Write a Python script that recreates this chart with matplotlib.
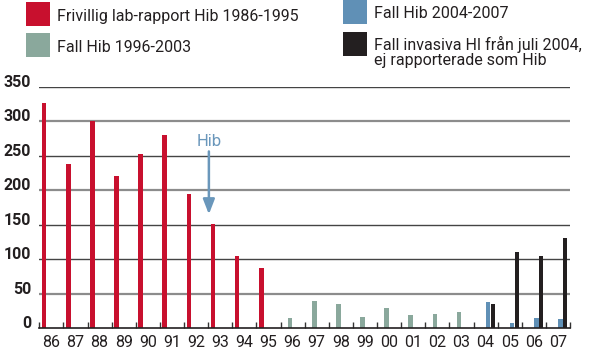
import matplotlib
matplotlib.use("Agg")
import matplotlib.pyplot as plt
from matplotlib.patches import Rectangle
import numpy as np

years = ["86", "87", "88", "89", "90", "91", "92", "93", "94", "95", "96",
         "97", "98", "99", "00", "01", "02", "03", "04", "05", "06", "07"]
red_years = years[0:10]
red_vals = [326, 238, 300, 221, 252, 280, 194, 151, 104, 87]
green_years = years[10:18]
green_vals = [15, 40, 35, 16, 30, 19, 21, 23]
blue_years = years[18:22]
blue_vals = [38, 7, 15, 13]
black_years = years[18:22]
black_vals = [35, 110, 105, 131]
yticks = [0, 50, 100, 150, 200, 250, 300, 350]

legend_labels = ["Frivillig lab-rapport Hib 1986-1995", "Fall Hib 1996-2003",
                 "Fall Hib 2004-2007", "Fall invasiva HI från juli 2004,\nej rapporterade som Hib"]

RED = "#c8102e"
GREEN = "#8aa89c"
BLUE = "#6090b6"
BLACK = "#231f20"
ARROW = "#6a97bb"

FONT = "Roboto"
plt.rcParams["font.family"] = [FONT, "DejaVu Sans"]

W, H = 600, 354
fig = plt.figure(figsize=(6, 3.54), dpi=100)

def fx(px):
    return px / W

def fy(py):
    return 1 - py / H

x0, x1 = 39.3, 570.0
ytop, ybot = 86.5, 328.3
ax = fig.add_axes([fx(x0), fy(ybot), fx(x1) - fx(x0), fy(ytop) - fy(ybot)])

idx = {y: i for i, y in enumerate(years)}
bw = 0.19
ax.bar([idx[y] + 0.2 for y in red_years], red_vals, width=bw, color=RED, zorder=3)
ax.bar([idx[y] + 0.4 for y in green_years], green_vals, width=bw, color=GREEN, zorder=3)
ax.bar([idx[y] + 0.6 for y in blue_years], blue_vals, width=bw, color=BLUE, zorder=3)
ax.bar([idx[y] + 0.8 for y in black_years], black_vals, width=bw, color=BLACK, zorder=3)

ax.set_xlim(0, len(years))
ax.set_ylim(0, 350)

# gridlines
for v in yticks[1:]:
    if v in (350, 250, 150, 100):
        ax.axhline(v, color="#444444", lw=1.0, zorder=1)
    else:
        ax.axhline(v, color="#8c8c8c", lw=1.6, zorder=1)

for s in ["top", "right", "left"]:
    ax.spines[s].set_visible(False)
ax.spines["bottom"].set_color(BLACK)
ax.spines["bottom"].set_linewidth(1.2)
ax.spines["bottom"].set_zorder(4)

ax.set_xticks(np.arange(0, len(years) + 1))
ax.set_xticklabels([])
ax.set_xticks(np.arange(len(years)) + 0.5, minor=True)
ax.set_xticklabels(years, minor=True, fontsize=11.5, color=BLACK)
ax.tick_params(axis="x", which="major", direction="in", length=4, width=1, color="#333333")
ax.tick_params(axis="x", which="minor", length=0, pad=5)

ax.set_yticks(yticks)
ax.set_yticklabels([str(v) for v in yticks], fontsize=11.5, fontweight="bold", color=BLACK)
ax.tick_params(axis="y", length=0, pad=6)
for lab in ax.get_yticklabels():
    lab.set_va("baseline")

# Hib annotation
hib_x = idx["93"] + 0.03
ax.text(hib_x, 271, "Hib", color=ARROW, fontsize=12, ha="center", va="center")
ax.annotate("", xy=(hib_x, 165), xytext=(hib_x, 256),
            arrowprops=dict(arrowstyle="-|>,head_length=0.9,head_width=0.35",
                            color=ARROW, lw=1.8, shrinkA=0, shrinkB=0))

# legend
def square(px, py, c):
    fig.add_artist(Rectangle((fx(px), fy(py + 23.5)), 23.5 / W, 23.5 / H,
                             transform=fig.transFigure, color=c, lw=0))

square(26, 2, RED)
square(26, 33, GREEN)
square(343, 0, BLUE)
square(343, 32, BLACK)
fs = 11.5
fig.text(fx(57), fy(16), legend_labels[0], fontsize=fs, va="center", color=BLACK)
fig.text(fx(57), fy(47), legend_labels[1], fontsize=fs, va="center", color=BLACK)
fig.text(fx(374), fy(13), legend_labels[2], fontsize=fs, va="center", color=BLACK)
fig.text(fx(374), fy(52), legend_labels[3], fontsize=fs, va="center", color=BLACK,
         linespacing=1.05)

fig.savefig("out.png", dpi=100)
